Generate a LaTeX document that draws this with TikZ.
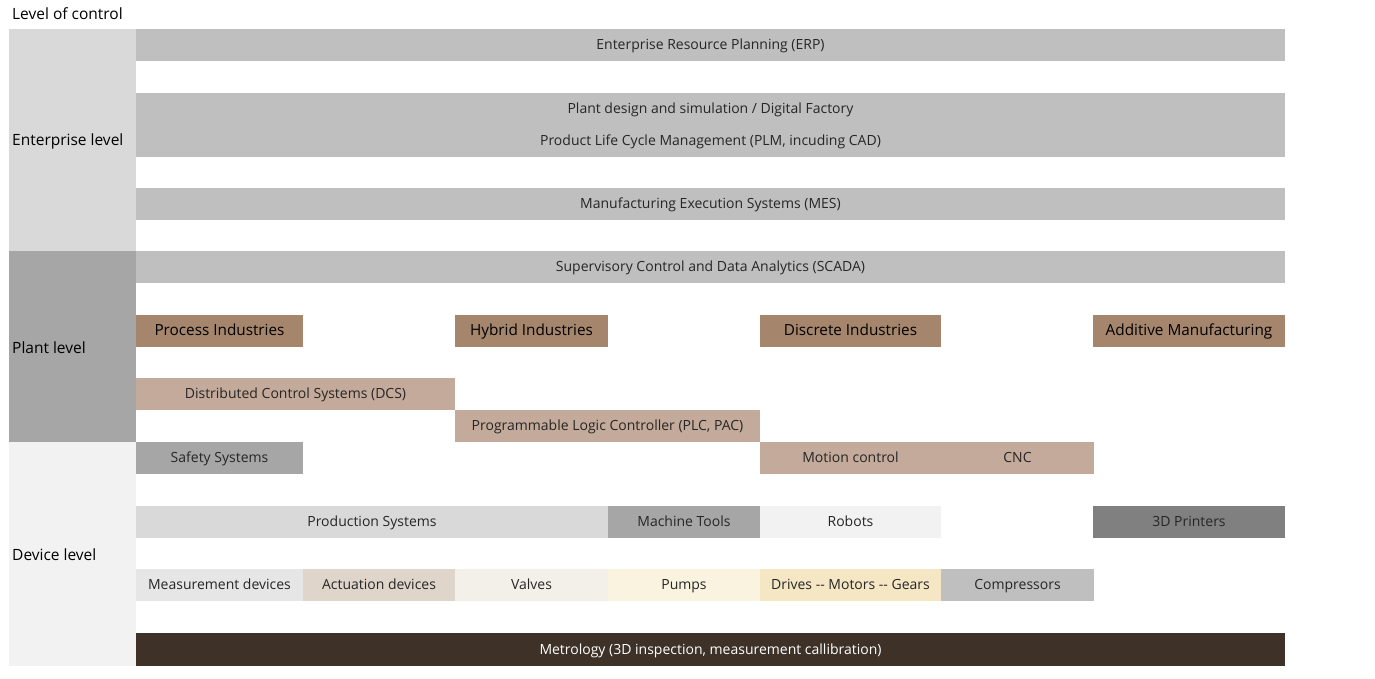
\documentclass[tikz,border=0pt]{standalone}
\usepackage{fontspec}
\setmainfont{Open Sans}
\usepackage{tikz}
\definecolor{entgray}{HTML}{D9D9D9}
\definecolor{plantgray}{HTML}{A6A6A6}
\definecolor{devgray}{HTML}{F2F2F2}
\definecolor{sysgray}{HTML}{BFBFBF}
\definecolor{printgray}{HTML}{808080}
\definecolor{indbrown}{HTML}{A5856B}
\definecolor{ctrltan}{HTML}{C4AA9A}
\definecolor{measgray}{HTML}{E6E6E6}
\definecolor{acttan}{HTML}{E0D5CB}
\definecolor{valvecream}{HTML}{F3F0EA}
\definecolor{pumpcream}{HTML}{FAF3DF}
\definecolor{drivecream}{HTML}{F5E7C4}
\definecolor{metrobrown}{HTML}{3D3128}
\definecolor{txtgray}{HTML}{262626}
\tikzset{
  cell/.style={inner sep=0pt, outer sep=0pt, minimum height=32pt, anchor=north west,
    text height=2.1ex, text depth=.3ex, text=txtgray, font=\fontsize{14}{16}\selectfont},
  indcell/.style={cell, fill=indbrown, text=black, font=\fontsize{15.3}{17}\selectfont},
  lvltext/.style={inner sep=0pt, anchor=west, text=black, font=\fontsize{15.5}{17}\selectfont},
}

\begin{document}
\begin{tikzpicture}[x=1pt,y=-1pt]
    \useasboundingbox (0,0) rectangle (1375,679);
    \node[lvltext] (title) at (12,14) {Level of control};
    % level column
    \foreach \n/\ya/\yb/\c/\t in {ent/29/251/entgray/Enterprise level,plant/251/442/plantgray/Plant level,dev/442/666/devgray/Device level}{
    \node[fill=\c, inner sep=0pt, outer sep=0pt, minimum width=127pt, minimum height={(\yb-\ya)*1pt}, anchor=north west] (\n) at (9,\ya) {};
    \node[lvltext] (\n-lbl) at ([xshift=3pt,yshift=-1pt]\n.west) {\t};
    }
    % systems and devices
    \foreach \n/\xa/\xb/\ya/\c/\t in {
      erp/136/1285/29/sysgray/{Enterprise Resource Planning (ERP)},
      dig/136/1285/93/sysgray/{Plant design and simulation / Digital Factory},
      plm/136/1285/125/sysgray/{Product Life Cycle Management (PLM, incuding CAD)},
      mes/136/1285/188/sysgray/{Manufacturing Execution Systems (MES)},
      scada/136/1285/251/sysgray/{Supervisory Control and Data Analytics (SCADA)},
      dcs/136/455/378/ctrltan/{Distributed Control Systems (DCS)},
      plc/455/760/410/ctrltan/{Programmable Logic Controller (PLC, PAC)},
      safety/136/303/442/plantgray/Safety Systems,
      motion/760/941/442/ctrltan/Motion control,
      cnc/941/1094/442/ctrltan/CNC,
      prod/136/608/506/entgray/Production Systems,
      tools/608/760/506/plantgray/Machine Tools,
      robots/760/941/506/devgray/Robots,
      printers/1093/1285/506/printgray/3D Printers,
      meas/136/303/569/measgray/Measurement devices,
      act/303/455/569/acttan/Actuation devices,
      valves/455/608/569/valvecream/Valves,
      pumps/608/760/569/pumpcream/Pumps,
      drives/760/941/569/drivecream/Drives -{}- Motors -{}- Gears,
      comp/941/1094/569/sysgray/Compressors}{
    \node[cell, fill=\c, minimum width={(\xb-\xa)*1pt}] (\n) at (\xa,\ya) {\t};
    }
    % industries
    \foreach \n/\xa/\xb/\t in {process/136/303/Process Industries,hybrid/455/608/Hybrid Industries,discrete/760/941/Discrete Industries,additive/1093/1285/Additive Manufacturing}{
    \node[indcell, minimum width={(\xb-\xa)*1pt}] (\n) at (\xa,315) {\t};
    }
    \node[cell, fill=metrobrown, text=white, minimum width=1149pt, minimum height=33pt] (metro) at (136,633) {Metrology (3D inspection, measurement callibration)};
\end{tikzpicture}
\end{document}
